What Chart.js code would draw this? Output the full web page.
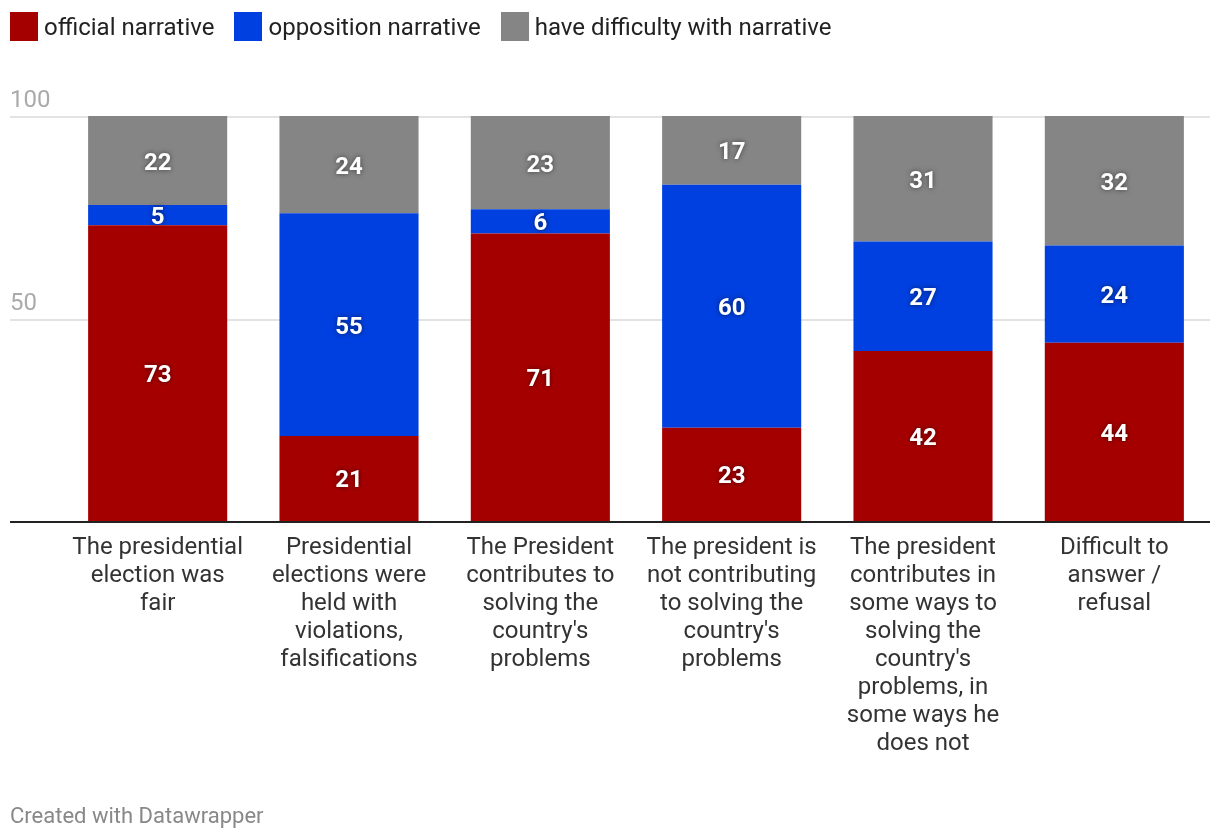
<!DOCTYPE html>
<html>
<head>
<meta charset="utf-8">
<script src="https://cdn.jsdelivr.net/npm/chart.js@4"></script>
<style>
  html, body { margin: 0; padding: 0; background: #fff; }
  #wrap { position: relative; width: 1220px; height: 840px; font-family: Roboto, sans-serif; }
  #chart { position: absolute; left: 0; top: 0; }
  #legend { position: absolute; left: 10px; top: 12px; display: flex; align-items: center; font-size: 24px; color: #222; }
  .item { display: flex; align-items: center; margin-right: 20px; }
  .sw { width: 28px; height: 29px; margin-right: 6px; }
  #footer { position: absolute; left: 10px; top: 803px; font-size: 22px; color: #888; }
</style>
</head>
<body>
<div id="wrap">
  <canvas id="chart" width="1220" height="840"></canvas>
  <div id="legend"></div>
  <div id="footer">Created with Datawrapper</div>
</div>
<script>
const categories = [
  ["The presidential", "election was", "fair"],
  ["Presidential", "elections were", "held with", "violations,", "falsifications"],
  ["The President", "contributes to", "solving the", "country's", "problems"],
  ["The president is", "not contributing", "to solving the", "country's", "problems"],
  ["The president", "contributes in", "some ways to", "solving the", "country's", "problems, in", "some ways he", "does not"],
  ["Difficult to", "answer /", "refusal"]
];
const seriesNames = ["official narrative", "opposition narrative", "have difficulty with narrative"];
const official = [73, 21, 71, 23, 42, 44];
const opposition = [5, 55, 6, 60, 27, 24];
const difficulty = [22, 24, 23, 17, 31, 32];
const yTicks = [50, 100];
const colors = ["#a50000", "#0040e0", "#858585"];

const seriesData = [official, opposition, difficulty];

// HTML legend built from series names
const legend = document.getElementById('legend');
seriesNames.forEach((name, i) => {
  const it = document.createElement('div');
  it.className = 'item';
  const sw = document.createElement('div');
  sw.className = 'sw';
  sw.style.background = colors[i];
  const tx = document.createElement('span');
  tx.textContent = name;
  it.appendChild(sw); it.appendChild(tx);
  legend.appendChild(it);
});

const FONT = 'Roboto, sans-serif';

const decor = {
  id: 'decor',
  beforeDatasetsDraw(chart) {
    const ctx = chart.ctx, y = chart.scales.y;
    ctx.save();
    yTicks.forEach(v => {
      const py = Math.round(y.getPixelForValue(v));
      ctx.strokeStyle = '#e3e3e3';
      ctx.lineWidth = 2;
      ctx.beginPath();
      ctx.moveTo(10, py + 1);
      ctx.lineTo(chart.width - 10, py + 1);
      ctx.stroke();
      ctx.fillStyle = '#aaaaaa';
      ctx.font = '24px ' + FONT;
      ctx.textAlign = 'left';
      ctx.textBaseline = 'alphabetic';
      ctx.fillText(String(v), 10, py - 9);
    });
    ctx.restore();
  },
  afterDatasetsDraw(chart) {
    const ctx = chart.ctx, y = chart.scales.y;
    ctx.save();
    const p0 = Math.round(y.getPixelForValue(0));
    ctx.strokeStyle = '#222';
    ctx.lineWidth = 2;
    ctx.beginPath();
    ctx.moveTo(10, p0 + 1);
    ctx.lineTo(chart.width - 10, p0 + 1);
    ctx.stroke();
    ctx.font = 'bold 24px ' + FONT;
    ctx.textAlign = 'center';
    ctx.textBaseline = 'middle';
    chart.data.datasets.forEach((ds, di) => {
      const meta = chart.getDatasetMeta(di);
      meta.data.forEach((bar, j) => {
        const v = ds.data[j];
        const cy = (bar.y + bar.base) / 2;
        ctx.shadowColor = 'rgba(0,0,0,0.55)';
        ctx.shadowBlur = 5;
        ctx.fillStyle = '#fff';
        ctx.fillText(String(v), bar.x, cy + 3);
      });
    });
    ctx.restore();
  }
};

new Chart(document.getElementById('chart'), {
  type: 'bar',
  data: {
    labels: categories,
    datasets: seriesData.map((d, i) => ({
      label: seriesNames[i],
      data: d,
      backgroundColor: colors[i],
      borderWidth: 0,
      categoryPercentage: 1,
      barPercentage: 0.727
    }))
  },
  options: {
    responsive: false,
    animation: false,
    devicePixelRatio: 1,
    layout: { padding: { left: 62, right: 10, top: 116, bottom: 0 } },
    plugins: { legend: { display: false }, tooltip: { enabled: false } },
    scales: {
      x: {
        stacked: true,
        grid: { display: false, drawTicks: false },
        border: { display: false },
        ticks: {
          autoSkip: false, maxRotation: 0, minRotation: 0,
          padding: 13,
          color: '#333',
          font: { family: FONT, size: 24, lineHeight: 28 / 24 }
        },
        afterFit(scale) { scale.height = 319; }
      },
      y: {
        stacked: true,
        min: 0, max: 100,
        display: false
      }
    }
  },
  plugins: [decor]
});
</script>
</body>
</html>
